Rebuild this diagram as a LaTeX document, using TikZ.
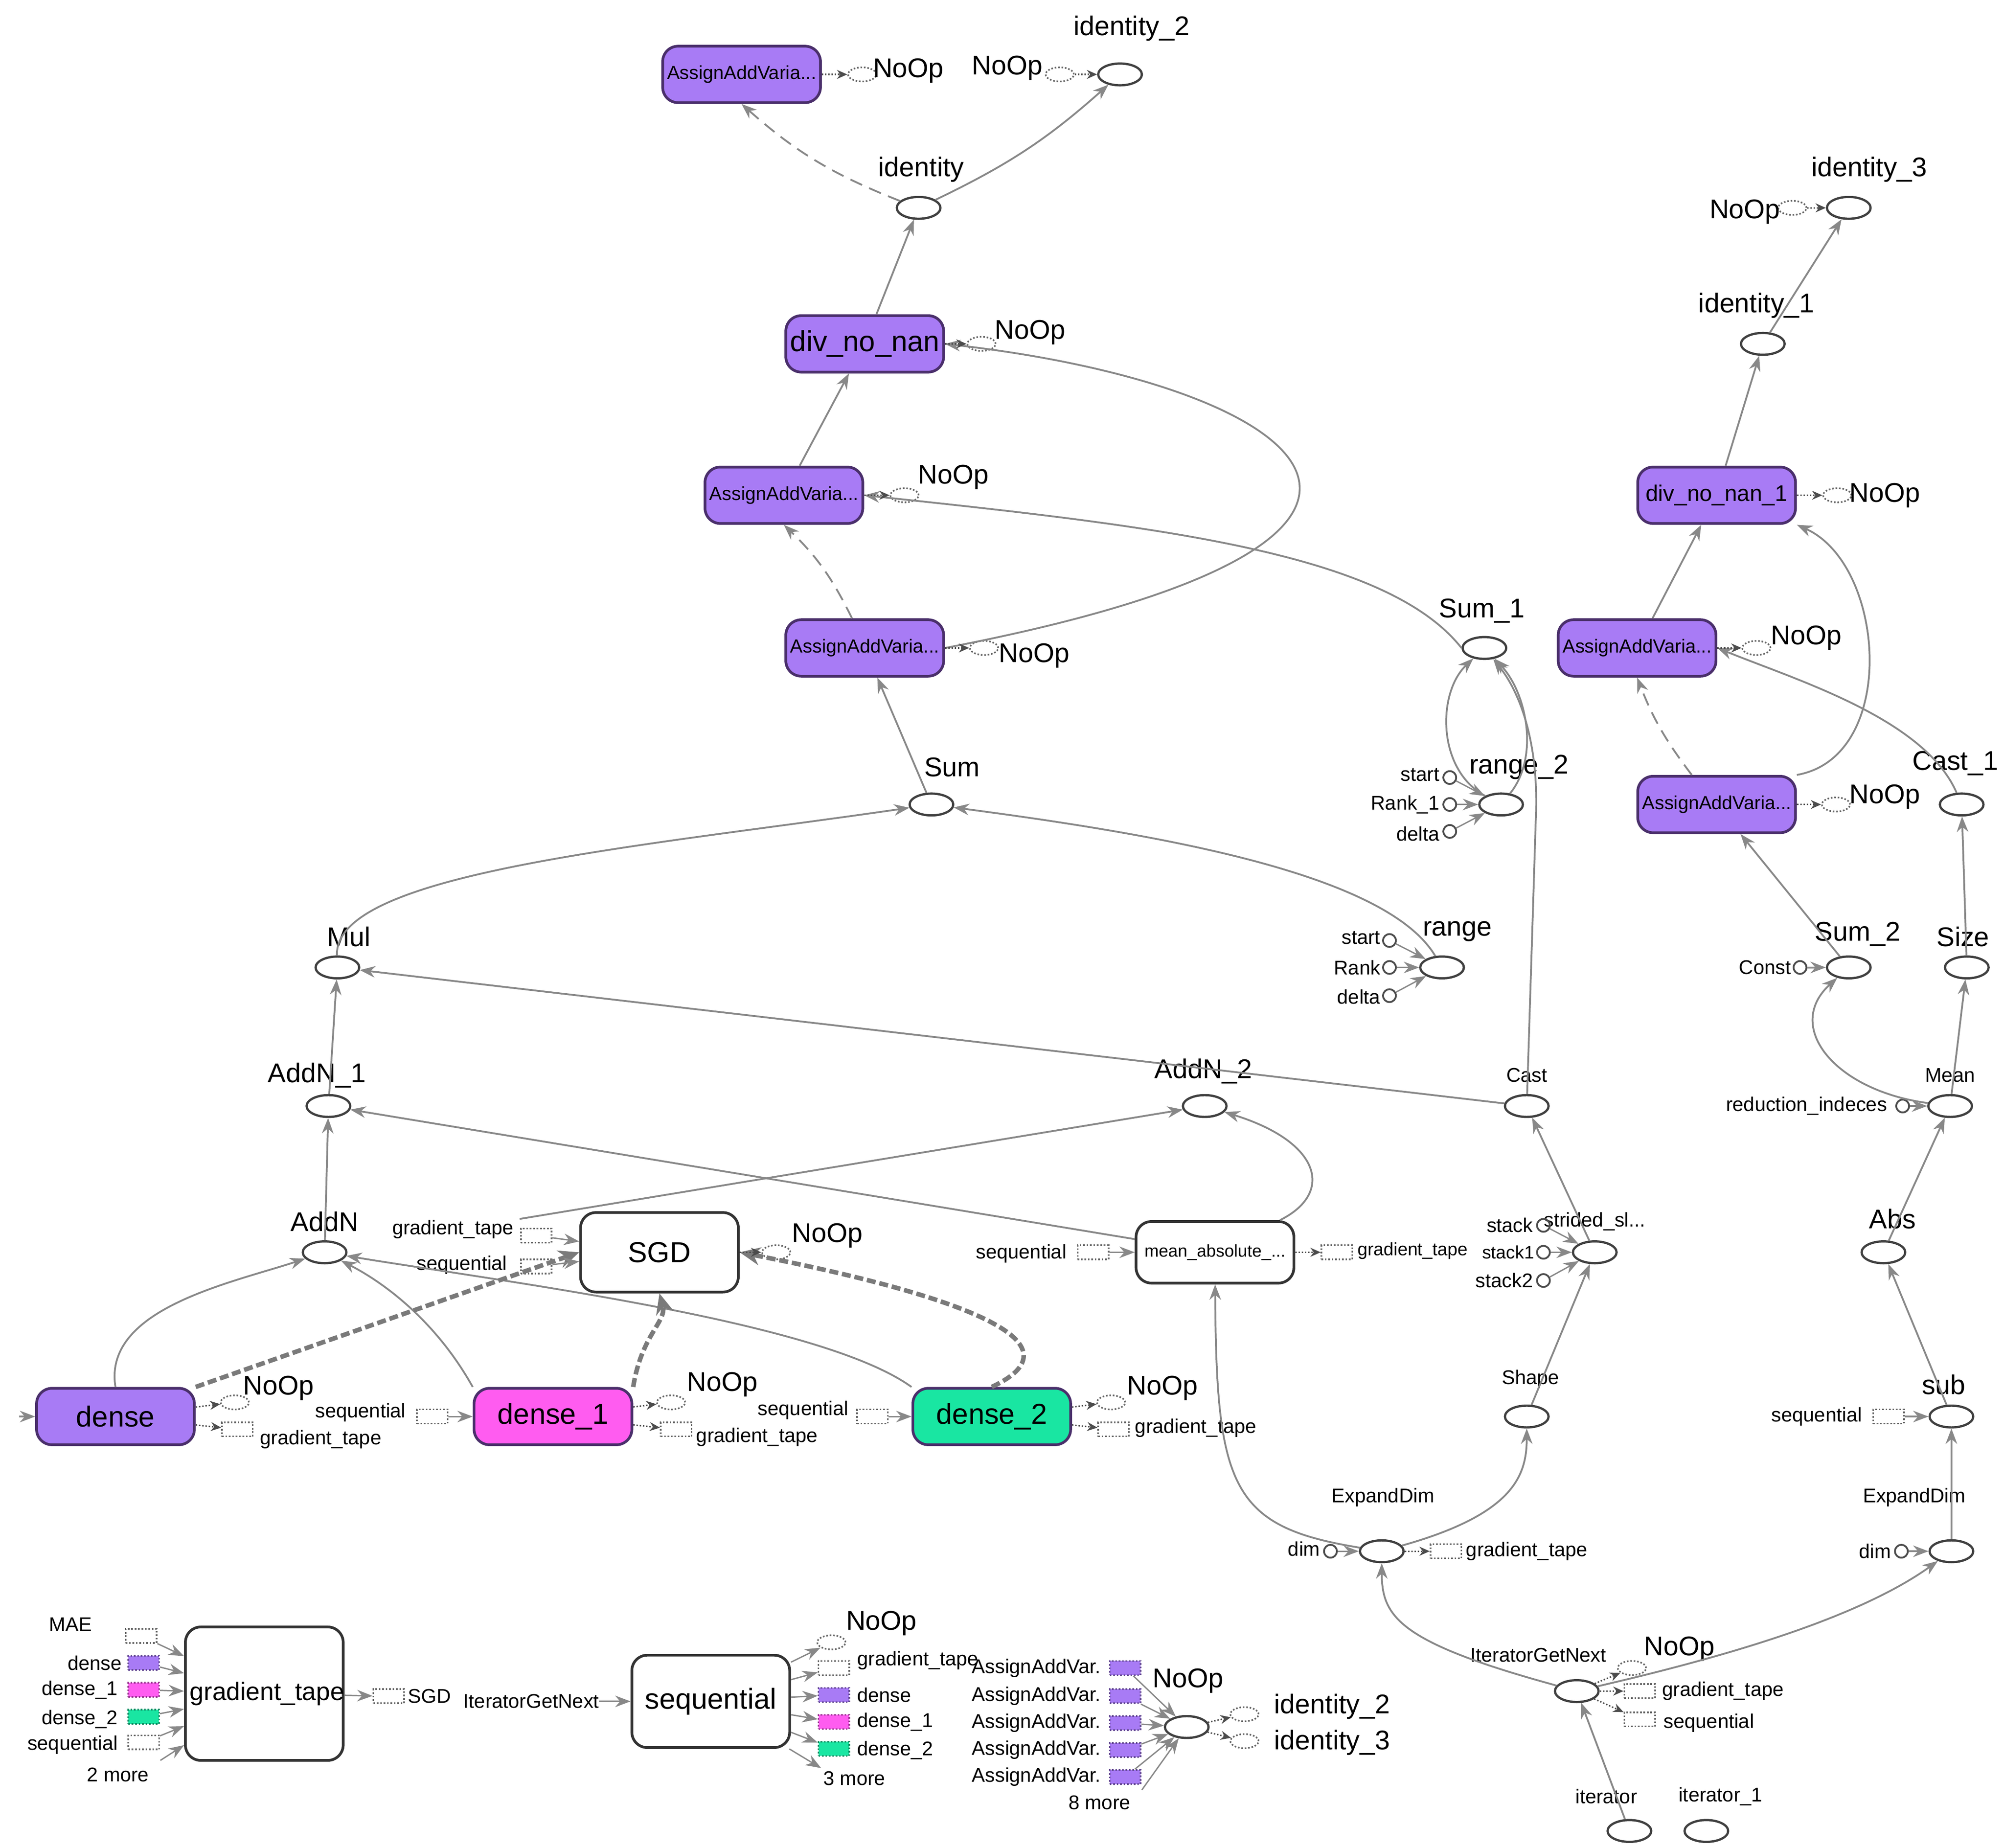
\documentclass[tikz,border=0pt]{standalone}
\usepackage{fontspec}
\setmainfont{Liberation Sans}
\usetikzlibrary{shapes.geometric,arrows.meta}
\definecolor{pur}{HTML}{A87BF5}
\definecolor{mag}{HTML}{FF5CF0}
\definecolor{grn}{HTML}{19E6A2}
\definecolor{bord}{HTML}{4A2F6B}
\definecolor{edge}{HTML}{888888}
\begin{document}
\begin{tikzpicture}[x=0.05cm,y=-0.05cm,
  op/.style={ellipse,draw=black!75,line width=2.5pt,minimum width=1.7cm,minimum height=0.85cm,inner sep=0pt},
  ctl/.style={ellipse,draw=black!60,dotted,line width=1.8pt,minimum width=1.1cm,minimum height=0.55cm,inner sep=0pt},
  dbox/.style={rectangle,draw=black!60,dotted,line width=1.8pt,minimum width=1.2cm,minimum height=0.55cm,inner sep=0pt},
  cbox/.style={dbox,fill=#1,draw=#1!60!black},
  sc/.style={circle,draw=black!70,line width=2pt,minimum size=0.5cm,inner sep=0pt},
  box/.style={rectangle,rounded corners=0.6cm,draw=bord,line width=3pt,minimum width=6.15cm,minimum height=2.2cm,text width=5.8cm,align=center,fill=pur,font=\fontsize{21}{24}\selectfont},
  wbox/.style={box,fill=white,draw=black!80},
  lbl/.style={inner sep=0pt,font=\fontsize{22}{26}\selectfont},
  big/.style={inner sep=0pt,font=\fontsize{30}{34}\selectfont},
  bt/.style={font=\fontsize{32}{36}\selectfont},
  e/.style={draw=edge,line width=2pt,-{Stealth[length=0.6cm,width=0.45cm]}},
  de/.style={e,dashed,dash pattern=on 0.5cm off 0.3cm},
  te/.style={draw=edge!90!black,line width=5pt,dash pattern=on 0.35cm off 0.15cm,-{Stealth[length=0.8cm,width=0.7cm]}},
  ce/.style={draw=black!70,line width=1.6pt,dotted,-{Stealth[length=0.4cm,width=0.35cm]}}]
\useasboundingbox (0,0) rectangle (1562,1440);
% ===== top-left column =====
\node[box] (aa1) at (578,58) {AssignAddVaria...};
\node[ctl] (aa1n) at (672,58) {}; \node[big] (laa1n) at (708,55) {NoOp};
\node[big] (lno2) at (785,53) {NoOp}; \node[ctl] (no2) at (826,58) {};
\node[op] (id2) at (873,58) {}; \node[big] (lid2) at (882,22) {identity\_2};
\node[op] (id) at (716,162) {}; \node[big] (lid) at (718,132) {identity};
\node[box,bt] (dnn) at (674,268) {div\_no\_nan};
\node[ctl] (dnnn) at (765,268) {}; \node[big] (ldnnn) at (803,259) {NoOp};
\node[box] (aa2) at (611,386) {AssignAddVaria...};
\node[ctl] (aa2n) at (705,386) {}; \node[big] (laa2n) at (743,372) {NoOp};
\node[box] (aa3) at (674,505) {AssignAddVaria...};
\node[ctl] (aa3n) at (767,505) {}; \node[big] (laa3n) at (806,511) {NoOp};
\node[op] (sum1) at (1157,505) {}; \node[big] (lsum1) at (1155,476) {Sum\_1};
\node[op] (rng2) at (1170,627) {}; \node[big] (lrng2) at (1184,598) {range\_2};
\node[sc] (st2) at (1130,606) {}; \node[lbl,anchor=east] (lst2) at (1122,604) {start};
\node[sc] (rk1) at (1130,627) {}; \node[lbl,anchor=east] (lrk1) at (1122,627) {Rank\_1};
\node[sc] (dl2) at (1130,648) {}; \node[lbl,anchor=east] (ldl2) at (1122,650) {delta};
\node[op] (sum) at (726,627) {}; \node[big] (lsum) at (742,598) {Sum};
\node[op] (mul) at (263,754) {}; \node[big] (lmul) at (272,730) {Mul};
\node[op] (rng) at (1124,754) {}; \node[big] (lrng) at (1136,726) {range};
\node[sc] (st) at (1083,733) {}; \node[lbl,anchor=east] (lst) at (1076,731) {start};
\node[sc] (rk) at (1083,754) {}; \node[lbl,anchor=east] (lrk) at (1076,754) {Rank};
\node[sc] (dl) at (1083,776) {}; \node[lbl,anchor=east] (ldl) at (1076,777) {delta};
\node[op] (an1) at (256,862) {}; \node[big] (lan1) at (247,838) {AddN\_1};
\node[op] (an2) at (939,862) {}; \node[big] (lan2) at (938,835) {AddN\_2};
\node[op] (cast) at (1190,862) {}; \node[lbl] (lcast) at (1190,838) {Cast};
\node[op] (an) at (253,976) {}; \node[big] (lan) at (253,952) {AddN};
\node[wbox,bt,minimum height=3.1cm] (sgd) at (514,976) {SGD};
\node[ctl] (sgdn) at (605,976) {}; \node[big] (lsgdn) at (645,963) {NoOp};
\node[lbl] (lgt1) at (353,958) {gradient\_tape}; \node[dbox] (gt1) at (418,963) {};
\node[lbl] (lsq1) at (360,986) {sequential}; \node[dbox] (sq1) at (418,987) {};
\node[wbox,minimum height=2.4cm,font=\fontsize{19}{22}\selectfont] (mae) at (947,976) {mean\_absolute\_...};
\node[lbl] (lsq2) at (796,977) {sequential}; \node[dbox] (sq2) at (852,976) {};
\node[dbox] (gt2) at (1042,976) {}; \node[lbl,anchor=west,font=\fontsize{20}{24}\selectfont] (lgt2) at (1058,975) {gradient\_tape};
\node[op] (ss) at (1243,976) {}; \node[lbl] (lss) at (1243,952) {strided\_sl...};
\node[sc] (stk) at (1203,955) {}; \node[lbl,anchor=east] (lstk) at (1195,955) {stack};
\node[sc] (stk1) at (1203,976) {}; \node[lbl,anchor=east,font=\fontsize{20}{24}\selectfont] (lstk1) at (1196,976) {stack1};
\node[sc] (stk2) at (1203,998) {}; \node[lbl,anchor=east] (lstk2) at (1195,998) {stack2};
\node[op] (shape) at (1190,1104) {}; \node[lbl] (lshape) at (1193,1075) {Shape};
% dense row
\coordinate (din) at (15,1104);
\node[box,bt] (d0) at (90,1104) {dense};
\node[ctl] (d0n) at (183,1093) {}; \node[big] (ld0n) at (217,1082) {NoOp};
\node[dbox] (d0g) at (185,1114) {}; \node[lbl] (ld0g) at (250,1122) {gradient\_tape};
\node[lbl] (lsq3) at (281,1101) {sequential}; \node[dbox] (sq3) at (337,1104) {};
\node[box,bt,fill=mag] (d1) at (431,1104) {dense\_1};
\node[ctl] (d1n) at (523,1093) {}; \node[big] (ld1n) at (563,1079) {NoOp};
\node[dbox] (d1g) at (527,1114) {}; \node[lbl] (ld1g) at (590,1120) {gradient\_tape};
\node[lbl] (lsq4) at (626,1099) {sequential}; \node[dbox] (sq4) at (680,1104) {};
\node[box,bt,fill=grn] (d2) at (773,1104) {dense\_2};
\node[ctl] (d2n) at (866,1093) {}; \node[big] (ld2n) at (906,1082) {NoOp};
\node[dbox] (d2g) at (868,1114) {}; \node[lbl] (ld2g) at (932,1113) {gradient\_tape};
% expand dims / iterator
\node[op] (ed) at (1077,1209) {}; \node[lbl] (led) at (1078,1167) {ExpandDim};
\node[sc] (dim) at (1037,1209) {}; \node[lbl,anchor=east] (ldim) at (1029,1207) {dim};
\node[dbox] (gt3) at (1127,1209) {}; \node[lbl] (lgt3) at (1190,1209) {gradient\_tape};
\node[op] (itg) at (1229,1318) {}; \node[lbl] (litg) at (1199,1290) {IteratorGetNext};
\node[ctl] (itgn) at (1272,1300) {}; \node[big] (litgn) at (1309,1285) {NoOp};
\node[dbox] (gt4) at (1278,1318) {}; \node[lbl] (lgt4) at (1343,1318) {gradient\_tape};
\node[dbox] (sq5) at (1278,1340) {}; \node[lbl] (lsq5) at (1332,1343) {sequential};
\node[op] (it) at (1270,1427) {}; \node[lbl] (lit) at (1252,1400) {iterator};
\node[op] (it1) at (1330,1427) {}; \node[lbl] (lit1) at (1341,1400) {iterator\_1};
% ===== right column =====
\node[op] (id3) at (1441,162) {}; \node[big] (lid3) at (1457,132) {identity\_3};
\node[ctl] (id3n) at (1397,162) {}; \node[big] (lid3n) at (1360,165) {NoOp};
\node[op] (id1) at (1374,268) {}; \node[big] (lid1) at (1369,238) {identity\_1};
\node[box,font=\fontsize{25}{28}\selectfont] (dnn1) at (1338,386) {div\_no\_nan\_1};
\node[ctl] (dnn1n) at (1432,386) {}; \node[big] (ldnn1n) at (1469,386) {NoOp};
\node[box] (ar1) at (1276,505) {AssignAddVaria...};
\node[ctl] (ar1n) at (1369,505) {}; \node[big] (lar1n) at (1408,497) {NoOp};
\node[box] (ar2) at (1338,627) {AssignAddVaria...};
\node[ctl] (ar2n) at (1431,627) {}; \node[big] (lar2n) at (1469,621) {NoOp};
\node[op] (cast1) at (1529,627) {}; \node[big] (lcast1) at (1524,595) {Cast\_1};
\node[op] (sum2) at (1441,754) {}; \node[big] (lsum2) at (1448,728) {Sum\_2};
\node[sc] (const) at (1403,754) {}; \node[lbl,anchor=east] (lconst) at (1396,754) {Const};
\node[op] (size) at (1533,754) {}; \node[big] (lsize) at (1530,730) {Size};
\node[op] (mean) at (1520,862) {}; \node[lbl] (lmean) at (1520,838) {Mean};
\node[sc] (red) at (1483,862) {}; \node[lbl,anchor=east] (lred) at (1471,862) {reduction\_indeces};
\node[op] (abs) at (1468,976) {}; \node[big] (labs) at (1475,950) {Abs};
\node[op] (sub) at (1521,1104) {}; \node[big] (lsub) at (1515,1079) {sub};
\node[lbl] (lsq6) at (1416,1104) {sequential}; \node[dbox] (sq6) at (1472,1104) {};
\node[op] (ed2) at (1521,1209) {}; \node[lbl] (led2) at (1492,1167) {ExpandDim};
\node[sc] (dim2) at (1482,1209) {}; \node[lbl,anchor=east] (ldim2) at (1474,1209) {dim};
% ===== legend row =====
\node[wbox,minimum height=5.2cm,font=\fontsize{28}{32}\selectfont] (gtb) at (206,1320) {gradient\_tape};
\node[dbox] (gi1) at (110,1275) {}; \node[lbl,anchor=east] (lgi1) at (72,1266) {MAE};
\node[cbox=pur] (gi2) at (112,1296) {}; \node[lbl,anchor=east] (lgi2) at (95,1296) {dense};
\node[cbox=mag] (gi3) at (112,1317) {}; \node[lbl,anchor=east] (lgi3) at (92,1317) {dense\_1};
\node[cbox=grn] (gi4) at (112,1338) {}; \node[lbl,anchor=east] (lgi4) at (92,1340) {dense\_2};
\node[dbox] (gi5) at (112,1358) {}; \node[lbl,anchor=east] (lgi5) at (92,1360) {sequential};
\node[lbl] (lgm) at (92,1383) {2 more}; \coordinate (gm) at (125,1372);
\node[dbox] (go) at (303,1322) {}; \node[lbl,anchor=west] (lgo) at (318,1322) {SGD};
\node[wbox,bt,minimum height=3.6cm] (sqb) at (554,1326) {sequential};
\node[lbl,anchor=east] (lsqi) at (467,1326) {IteratorGetNext};
\node[ctl] (so1) at (648,1280) {}; \node[big] (lso1) at (687,1265) {NoOp};
\node[dbox] (so2) at (650,1300) {}; \node[lbl,anchor=west] (lso2) at (668,1294) {gradient\_tape};
\node[cbox=pur] (so3) at (650,1321) {}; \node[lbl,anchor=west] (lso3) at (668,1321) {dense};
\node[cbox=mag] (so4) at (650,1342) {}; \node[lbl,anchor=west] (lso4) at (668,1342) {dense\_1};
\node[cbox=grn] (so5) at (650,1363) {}; \node[lbl,anchor=west] (lso5) at (668,1364) {dense\_2};
\node[lbl] (lsm) at (666,1386) {3 more}; \coordinate (sm) at (640,1378);
\node[op] (nob) at (925,1346) {}; \node[big] (lnob) at (926,1310) {NoOp};
\foreach \i/\y in {1/1300,2/1322,3/1343,4/1364,5/1385}{
  \node[cbox=pur] (ni\i) at (877,\y) {};
  \node[lbl,anchor=east] (lni\i) at (858,\y) {AssignAddVar.};
  \draw[e,line width=1.5pt] (ni\i) -- (nob);}
\node[lbl] (lnm) at (857,1405) {8 more}; \coordinate (nm) at (890,1395);
\node[ctl] (no1) at (970,1336) {}; \node[big,anchor=west] (lno1) at (993,1330) {identity\_2};
\node[ctl] (no3) at (970,1357) {}; \node[big,anchor=west] (lno3) at (993,1358) {identity\_3};
% ===== edges =====
\draw[de] (id) to[bend left=10] (aa1.south);
\draw[e] (id) to[bend right=8] (id2);
\draw[e] (dnn) -- (id);
\draw[e] (aa2) -- (dnn);
\draw[de] (aa3) to[bend right=10] (aa2.south);
\draw[e] (aa3.east) .. controls (1180,420) and (1020,300) .. (dnn.east);
\draw[e] (sum1.west) .. controls (1080,430) and (900,410) .. (aa2.east);
\draw[e] (sum) -- (aa3);
\draw[e] (rng2) .. controls (1120,600) and (1120,540) .. (sum1);
\draw[e] (rng2) .. controls (1200,590) and (1190,540) .. (sum1);
\draw[e] (cast) -- (1197,640) .. controls (1200,580) and (1185,540) .. (sum1);
\draw[e] (mul) .. controls (260,680) and (500,660) .. (sum);
\draw[e] (rng) .. controls (1080,680) and (900,650) .. (sum);
\draw[e] (cast) -- (mul);
\draw[e] (an1) -- (mul);
\draw[e] (an) -- (an1);
\draw[e] (405,950) -- (an2);
\draw[e] (mae) -- (an1);
\draw[e] (mae) .. controls (1040,930) and (1030,890) .. (an2);
\draw[e] (ss) -- (cast);
\draw[e] (shape) -- (ss);
\draw[e] (ed) .. controls (960,1190) and (948,1160) .. (mae);
\draw[e] (ed) .. controls (1180,1180) and (1190,1150) .. (shape);
\draw[e] (itg) .. controls (1090,1280) and (1077,1260) .. (ed);
\draw[e] (itg) .. controls (1350,1290) and (1450,1260) .. (ed2);
\draw[e] (it) -- (itg);
\draw[e] (din) -- (d0);
\draw[e] (d0.north) .. controls (80,1020) and (180,1000) .. (an);
\draw[e] (d1.north west) .. controls (340,1030) and (300,1000) .. (an);
\draw[e] (d2.north west) .. controls (640,1030) and (400,1000) .. (an);
\draw[te] (d0.north east) -- (sgd.west);
\draw[te] (d1.north east) .. controls (500,1040) and (520,1030) .. (sgd.south);
\draw[te] (d2.north) .. controls (860,1040) and (700,1000) .. (sgd.east);
% right column
\draw[e] (id1) -- (id3);
\draw[e] (dnn1) -- (id1);
\draw[e] (ar1) -- (dnn1);
\draw[de] (ar2) to[bend left=8] (ar1.south);
\draw[e] (ar2.north east) .. controls (1480,590) and (1470,440) .. (dnn1.south east);
\draw[e] (cast1) .. controls (1500,560) and (1400,530) .. (ar1.east);
\draw[e] (sum2) -- (ar2);
\draw[e] (mean) .. controls (1430,850) and (1390,800) .. (sum2);
\draw[e] (size) -- (cast1);
\draw[e] (mean) -- (size);
\draw[e] (abs) -- (mean);
\draw[e] (sub) -- (abs);
\draw[e] (ed2) -- (sub);
\draw[e] (sq6) -- (sub);
\draw[e] (dim2) -- (ed2);
\draw[e] (const) -- (sum2);
\draw[e] (red) -- (mean);
% small input edges
\foreach \a/\b in {st2/rng2,rk1/rng2,dl2/rng2,st/rng,rk/rng,dl/rng,stk/ss,stk1/ss,stk2/ss,dim/ed,gt1/sgd,sq1/sgd,sq2/mae,sq3/d1,sq4/d2,gi1/gtb,gi2/gtb,gi3/gtb,gi4/gtb,gi5/gtb,gm/gtb,gtb/go,sqb/so1,sqb/so2,sqb/so3,sqb/so4,sqb/so5,sqb/sm,nm/nob}
  \draw[e,line width=1.5pt] (\a) -- (\b);
\draw[e,line width=1.5pt] (lsqi.east) -- (sqb);
% control edges
\foreach \a/\b in {aa1/aa1n,no2/id2,dnn/dnnn,aa2/aa2n,aa3/aa3n,sgd/sgdn,mae/gt2,d0/d0n,d0/d0g,d1/d1n,d1/d1g,d2/d2n,d2/d2g,ed/gt3,itg/itgn,itg/gt4,itg/sq5,id3n/id3,dnn1/dnn1n,ar1/ar1n,ar2/ar2n,nob/no1,nob/no3}
  \draw[ce] (\a) -- (\b);
\end{tikzpicture}
\end{document}
